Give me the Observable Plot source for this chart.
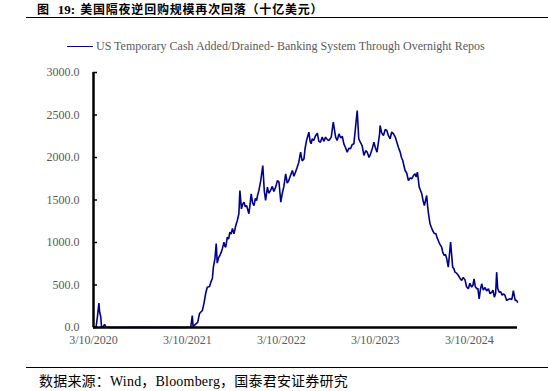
<!DOCTYPE html>
<html>
<head>
<meta charset="utf-8">
<script src="https://cdn.jsdelivr.net/npm/d3@7"></script>
<script src="https://cdn.jsdelivr.net/npm/@observablehq/plot@0.6"></script>
<style>
  html, body { margin: 0; padding: 0; background: #fff; }
  #wrap { position: relative; width: 548px; height: 391px; overflow: hidden; }
  #title { position: absolute; left: 37px; top: 3px; font: bold 12px/12px "Noto Sans CJK SC", sans-serif; letter-spacing: 0.8px; color: #000; white-space: nowrap; }
  #title .num { font-family: "Liberation Serif", serif; font-size: 13px; letter-spacing: 0; margin: 0 5px 0 8px; }
  #tline { position: absolute; left: 26px; right: 0; top: 16.5px; border-top: 1.3px solid #000; }
  #legend { position: absolute; left: 67px; top: 38px; font: 12px/16px "Liberation Serif", serif; color: #595959; white-space: nowrap; }
  #legend .sw { display: inline-block; width: 26px; height: 0; border-top: 1.6px solid #00008B; vertical-align: middle; margin-right: 3px; position: relative; top: -1px; }
  #chart { position: absolute; left: 0; top: 56px; }
  #bline { position: absolute; left: 26px; right: 0; top: 367px; border-top: 1.3px solid #000; }
  #caption { position: absolute; left: 39px; top: 373px; font: 14px/17px "Liberation Serif", "Noto Sans CJK SC", serif; letter-spacing: 0.2px; color: #000; white-space: nowrap; }
</style>
</head>
<body>
<div id="wrap">
  <div id="title">图<span class="num">19:</span>美国隔夜逆回购规模再次回落（十亿美元）</div>
  <div id="tline"></div>
  <div id="legend"><span class="sw"></span>US Temporary Cash Added/Drained- Banking System Through Overnight Repos</div>
  <div id="chart"></div>
  <div id="bline"></div>
  <div id="caption">数据来源：Wind，Bloomberg，国泰君安证券研究</div>
</div>
<script>
const seriesName = "US Temporary Cash Added/Drained- Banking System Through Overnight Repos";
const dates = [
  "2020-03-10","2020-03-20","2020-03-25","2020-03-31","2020-04-03","2020-04-07","2020-04-10","2020-04-16","2020-04-22","2020-04-28",
  "2020-05-15","2020-07-01","2020-09-01","2020-11-01","2021-01-04","2021-03-01","2021-03-23","2021-03-29","2021-04-01","2021-04-11",
  "2021-04-19","2021-04-26","2021-05-07","2021-05-13","2021-05-20","2021-05-26","2021-06-04","2021-06-10","2021-06-15","2021-06-19",
  "2021-06-25","2021-06-30","2021-07-04","2021-07-09","2021-07-14","2021-07-19","2021-07-24","2021-07-30","2021-08-02","2021-08-06",
  "2021-08-12","2021-08-17","2021-08-22","2021-08-27","2021-09-01","2021-09-07","2021-09-14","2021-09-20","2021-09-26","2021-09-30",
  "2021-10-06","2021-10-11","2021-10-16","2021-10-21","2021-10-26","2021-11-04","2021-11-09","2021-11-13","2021-11-18","2021-11-24",
  "2021-11-29","2021-12-04","2021-12-08","2021-12-13","2021-12-20","2021-12-28","2022-01-03","2022-01-08","2022-01-15","2022-01-20",
  "2022-01-27","2022-02-03","2022-02-09","2022-02-16","2022-02-23","2022-03-01","2022-03-08","2022-03-14","2022-03-20","2022-03-27",
  "2022-04-02","2022-04-08","2022-04-15","2022-04-22","2022-04-28","2022-05-04","2022-05-10","2022-05-17","2022-05-24","2022-05-30",
  "2022-06-06","2022-06-10","2022-06-16","2022-06-25","2022-06-30","2022-07-04","2022-07-08","2022-07-14","2022-07-20","2022-07-28",
  "2022-08-03","2022-08-09","2022-08-16","2022-08-22","2022-08-29","2022-09-05","2022-09-11","2022-09-20","2022-09-28","2022-10-07",
  "2022-10-13","2022-10-20","2022-10-27","2022-11-02","2022-11-08","2022-11-14","2022-11-21","2022-11-28","2022-12-04","2022-12-10",
  "2022-12-17","2022-12-30","2023-01-05","2023-01-11","2023-01-18","2023-01-25","2023-02-01","2023-02-07","2023-02-14","2023-02-20",
  "2023-02-27","2023-03-05","2023-03-10","2023-03-17","2023-03-27","2023-03-29","2023-04-04","2023-04-11","2023-04-18","2023-04-24",
  "2023-04-30","2023-05-07","2023-05-13","2023-05-20","2023-05-27","2023-06-02","2023-06-08","2023-06-15","2023-06-20","2023-06-25",
  "2023-07-04","2023-07-10","2023-07-17","2023-07-24","2023-07-30","2023-08-06","2023-08-12","2023-08-16","2023-08-21","2023-08-28",
  "2023-09-01","2023-09-07","2023-09-12","2023-09-17","2023-09-26","2023-09-30","2023-10-04","2023-10-09","2023-10-14","2023-10-19",
  "2023-10-25","2023-11-01","2023-11-05","2023-11-10","2023-11-16","2023-11-23","2023-11-28","2023-12-03","2023-12-08","2023-12-13",
  "2023-12-19","2023-12-28","2024-01-05","2024-01-10","2024-01-14","2024-01-20","2024-01-27","2024-02-02","2024-02-09","2024-02-15",
  "2024-02-22","2024-02-28","2024-03-06","2024-03-12","2024-03-19","2024-03-24","2024-03-28","2024-04-02","2024-04-08","2024-04-12",
  "2024-04-17","2024-04-22","2024-04-27","2024-05-03","2024-05-10","2024-05-16","2024-05-23","2024-05-29","2024-06-05","2024-06-10",
  "2024-06-15","2024-06-20","2024-06-24","2024-06-28","2024-07-04","2024-07-10","2024-07-15","2024-07-20","2024-07-26","2024-08-02",
  "2024-08-08","2024-08-15","2024-08-22","2024-08-28","2024-09-04","2024-09-09","2024-09-13"
];
const values = [
  2,3,120,286,180,130,15,5,35,5,
  0,0,1,0,2,0,5,141,10,40,
  60,165,200,278,400,474,482,540,576,710,
  810,988,757,820,847,880,929,1004,960,945,
  1062,1040,1121,1100,1165,1102,1200,1259,1338,1612,
  1396,1450,1474,1420,1435,1338,1460,1573,1470,1435,
  1520,1494,1560,1612,1729,1906,1600,1494,1651,1580,
  1612,1660,1600,1651,1729,1710,1474,1580,1660,1808,
  1700,1729,1790,1847,1780,1827,1880,1945,2063,1960,
  1984,2100,2200,2298,2190,2161,2220,2200,2250,2286,
  2190,2180,2240,2190,2239,2210,2200,2240,2415,2239,
  2200,2278,2230,2250,2161,2120,2063,2110,2102,2150,
  2161,2553,2220,2180,2141,2024,2080,2063,2000,2043,
  2110,2180,2120,2063,2278,2376,2290,2259,2330,2318,
  2260,2220,2300,2278,2240,2180,2120,2063,2000,1965,
  1847,1820,1729,1760,1749,1790,1808,1770,1827,1651,
  1620,1573,1490,1435,1553,1415,1320,1220,1180,1141,
  1110,1102,1060,1024,980,945,880,847,860,808,
  710,1004,710,690,651,640,612,580,553,590,
  560,480,455,520,474,500,573,480,455,460,
  337,450,514,440,470,430,455,400,415,440,
  357,400,651,460,415,420,380,396,380,318,
  330,337,330,435,318,320,298
];
const xTickDates = ["2020-03-10","2021-03-10","2022-03-10","2023-03-10","2024-03-10"];
const yTicks = [0, 500, 1000, 1500, 2000, 2500, 3000];

const parse = d3.utcParse("%Y-%m-%d");
const n = Math.min(dates.length, values.length);
const data = d3.range(n).map(i => ({date: parse(dates[i]), value: values[i]}));
const xTicks = xTickDates.map(parse);
const fmtDate = d => `${d.getUTCMonth() + 1}/${d.getUTCDate()}/${d.getUTCFullYear()}`;

const W = 548, H = 300;
const mL = 93, mR = 31, mT = 16, mB = 29;
const chart = Plot.plot({
  width: W, height: H,
  marginLeft: mL, marginRight: mR, marginTop: mT, marginBottom: mB,
  style: {fontFamily: "'Liberation Serif', serif", fontSize: "12px", color: "#595959", background: "#fff"},
  x: {type: "utc", domain: [parse(dates[0]), parse(dates[n - 1])], ticks: xTicks, tickFormat: fmtDate, tickSize: 0, tickPadding: 8, label: null},
  y: {domain: [0, 3000], ticks: yTicks, tickFormat: d => d.toFixed(1), tickSize: 0, tickPadding: 14, label: null},
  marks: [
    Plot.tickY(yTicks, {y: d => d, stroke: "#000", strokeWidth: 1.5, insetRight: W - mL - mR - 4}),
    Plot.line(data, {x: "date", y: "value", stroke: "#00008B", strokeWidth: 1.6, strokeLinejoin: "miter"}),
    Plot.ruleX([parse(dates[0])], {stroke: "#000", strokeWidth: 2.5}),
    Plot.ruleY([0], {stroke: "#000", strokeWidth: 2.5})
  ]
});
document.getElementById("chart").appendChild(chart);
</script>
</body>
</html>
